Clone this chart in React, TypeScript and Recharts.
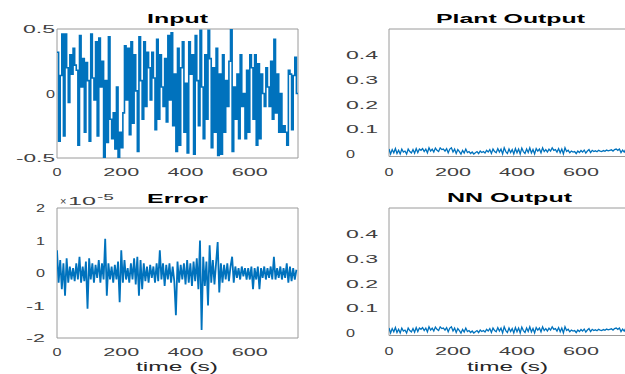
import React from 'react';
import { LineChart, Line, XAxis, YAxis, ReferenceArea } from 'recharts';

// sample period of every trace, seconds
const TIME_STEP = 5;
const timeTicks = [0, 200, 400, 600];

// Input: random step signal, one value per 5 s (last one repeated to close at 750 s)
const input = [
  0.32, -0.37, 0.14, 0.46, -0.33, 0.46, 0.2, -0.07, 0.3, 0.15,
  0.35, 0.22, 0.18, -0.4, 0.45, 0.05, 0.27, -0.3, 0.24, 0.1,
  -0.37, 0.46, 0.12, -0.05, 0.4, -0.33, 0.43, 0.05, 0.25, -0.5,
  0.1, -0.38, 0.44, -0.2, -0.35, -0.15, -0.43, 0.05, -0.5, -0.3,
  -0.42, -0.15, 0.37, -0.05, 0.35, -0.32, 0.4, -0.23, 0.3, 0.02,
  -0.45, 0.44, 0.1, -0.2, 0.4, -0.1, 0.32, 0.2, -0.05, 0.32,
  0.12, -0.28, 0.42, -0.2, 0.3, 0.05, -0.1, 0.27, -0.22, 0.45,
  -0.05, 0.47, -0.25, 0.15, -0.45, 0.35, -0.4, 0.2, 0.4, -0.3,
  0.08, -0.46, 0.4, 0.15, 0.3, -0.47, 0.45, 0.1, -0.25, 0.49,
  0.05, -0.35, 0.3, -0.2, 0.49, 0.27, -0.42, 0.2, -0.3, 0.35,
  -0.48, 0.15, -0.47, 0.3, -0.3, 0.1, -0.1, 0.25, 0.5, -0.45,
  0.05, -0.2, 0.15, -0.35, 0.3, -0.1, 0.0, -0.35, 0.18, -0.3,
  0.3, 0.2, -0.2, 0.3, -0.4, 0.23, -0.35, 0.15, 0.0, -0.1,
  0.2, 0.05, -0.1, 0.25, -0.2, 0.42, -0.15, 0.15, -0.3, 0.0,
  -0.3, -0.25, -0.3, -0.4, 0.18, 0.15, -0.28, 0.14, 0.28, 0.0,
  0.0,
];

// Plant output (the NN output is the same trace to within 1e-5)
const plantOutput = [
  0.02, 0.0, 0.018, 0.005, 0.022, 0.002, 0.015, 0.0, 0.02, 0.008,
  0.012, 0.0, 0.02, 0.01, 0.004, 0.018, 0.003, 0.022, 0.006, 0.02,
  0.015, 0.022, 0.01, 0.02, 0.005, 0.025, 0.012, 0.02, 0.008, 0.024,
  0.015, 0.01, 0.025, 0.018, 0.02, 0.012, 0.022, 0.005, 0.02, 0.025,
  0.008, 0.02, 0.002, 0.018, 0.01, 0.0, 0.015, 0.004, 0.02, 0.006,
  0.01, 0.002, 0.008, 0.0, 0.005, 0.01, 0.002, 0.012, 0.006, 0.01,
  0.004, 0.015, 0.008, 0.018, 0.002, 0.02, 0.01, 0.005, 0.022, 0.008,
  0.02, 0.0, 0.025, 0.01, 0.002, 0.02, 0.006, 0.018, 0.0, 0.022,
  0.005, 0.02, 0.0, 0.024, 0.01, 0.002, 0.02, 0.006, 0.025, 0.004,
  0.018, 0.0, 0.022, 0.012, 0.02, 0.005, 0.025, 0.01, 0.018, 0.008,
  0.02, 0.012, 0.025, 0.015, 0.018, 0.008, 0.022, 0.005, 0.02, 0.0,
  0.025, 0.01, 0.015, 0.005, 0.012, 0.008, 0.01, 0.002, 0.012, 0.006,
  0.014, 0.008, 0.016, 0.004, 0.012, 0.018, 0.006, 0.015, 0.01, 0.013,
  0.009, 0.015, 0.012, 0.01, 0.014, 0.011, 0.016, 0.013, 0.015, 0.017,
  0.012, 0.018, 0.02, 0.015, 0.02, 0.006, 0.016, 0.008, 0.02, 0.01,
];
const nnOutput = plantOutput;

// Error, in units of 1e-5
const errorTrace = [
  0.7, -0.3, 0.4, -0.5, 0.3, -0.7, 0.45, -0.3, 0.2, -0.2,
  0.15, -0.25, 0.3, -0.2, 0.5, -0.3, 0.2, -0.25, 0.35, -1.1,
  0.45, -0.2, 0.3, -0.3, 0.25, -0.15, 0.4, -0.3, 0.3, -0.2,
  1.05, -0.7, 0.3, -0.2, 0.2, -0.3, 0.25, -0.2, 0.35, -0.9,
  0.7, -0.3, 0.4, -0.2, 0.15, -0.3, 0.3, -0.2, 0.45, -0.35,
  0.5, -0.7, 0.4, -0.5, 0.3, -0.25, 0.2, -0.3, 0.25, -0.15,
  0.2, -0.3, 0.3, -0.25, 0.7, -0.2, 0.3, -0.4, 0.25, -0.2,
  0.3, -0.3, 0.2, -0.25, -1.3, 0.35, -0.3, 0.25, -0.2, 0.3,
  -0.35, 0.4, -0.3, 0.3, -0.4, 0.35, -0.25, 0.45, -0.5, 1.0,
  -1.75, 0.5, -0.4, 0.35, -1.0, 0.85, -0.3, 0.4, -0.35, 0.3,
  0.95, -0.6, 0.3, -0.3, 0.25, -0.2, 0.3, -0.25, 0.2, 0.5,
  -0.3, 0.2, -0.15, 0.15, -0.2, 0.2, -0.1, 0.15, -0.2, 0.15,
  -0.2, 0.2, -0.5, 0.15, -0.2, 0.2, -0.5, 0.15, -0.15, 0.2,
  -0.2, 0.15, -0.15, 0.2, -0.2, 0.5, -0.2, 0.15, -0.15, 0.2,
  -0.2, 0.15, -0.15, 0.3, -0.3, 0.2, -0.25, 0.15, -0.2, 0.1,
];

const inputTicks = [-0.5, 0, 0.5];
const outputTicks = [0, 0.1, 0.2, 0.3, 0.4];
const errorTicks = [-2, -1, 0, 1, 2];

const FONT = '"Liberation Sans", Arial, sans-serif';
const BLUE = '#0072BD';
const BOX = '#9a9a9a';

const toRows = (values: number[]) => values.map((v, i) => ({ t: i * TIME_STEP, v }));

// the reference text is stretched wide, so force the width of each label
const labelWidth = (s: string) => {
  if (s.length === 1) return 9;
  let w = 0;
  for (const c of s) w += c === '.' ? 8 : c === '-' ? 7 : 12;
  return w;
};

const fmt = (v: number) => String(v);

const makeYTick = (labelX: number, anchor: 'start' | 'end') => (props: any) => {
  const s = fmt(props.payload.value);
  return (
    <text x={labelX} y={props.y} dy={4} textAnchor={anchor} textLength={labelWidth(s)}
      lengthAdjust="spacingAndGlyphs" fontSize={11} fill="#404040" fontFamily={FONT}>
      {s}
    </text>
  );
};

const makeXTick = (labelY: number) => (props: any) => {
  const s = fmt(props.payload.value);
  return (
    <text x={props.x} y={labelY} textAnchor="middle" textLength={labelWidth(s)}
      lengthAdjust="spacingAndGlyphs" fontSize={11} fill="#404040" fontFamily={FONT}>
      {s}
    </text>
  );
};

interface PanelProps {
  left: number;
  top: number;
  width: number;
  height: number;
  margin: { top: number; right: number; bottom: number; left: number };
  yWidth: number;
  data: number[];
  yDomain: [number, number];
  yTicks: number[];
  yTick: (p: any) => React.ReactElement;
  xTick: (p: any) => React.ReactElement;
  lineWidth: number;
  step?: boolean;
}

const Panel: React.FC<PanelProps> = ({ left, top, width, height, margin, yWidth, data, yDomain, yTicks, yTick, xTick, lineWidth, step }) => (
  <div style={{ position: 'absolute', left, top }}>
    <LineChart width={width} height={height} data={toRows(data)} margin={margin}>
      <XAxis dataKey="t" type="number" domain={[0, 750]} ticks={timeTicks} allowDataOverflow
        axisLine={false} tickLine={false} height={20} tick={xTick} interval={0} />
      <YAxis type="number" domain={yDomain} ticks={yTicks} allowDataOverflow
        axisLine={false} tickLine={false} width={yWidth} tick={yTick} interval={0} />
      <ReferenceArea x1={0} x2={750} y1={yDomain[0]} y2={yDomain[1]} fill="none" fillOpacity={0}
        stroke={BOX} strokeWidth={1} ifOverflow="visible" />
      <Line dataKey="v" type={step ? 'stepAfter' : 'linear'} stroke={BLUE} strokeWidth={lineWidth}
        dot={false} isAnimationActive={false} />
    </LineChart>
  </div>
);

const outDomain: [number, number] = [-0.01, 0.505];

export default function App() {
  return (
    <div style={{ position: 'relative', width: 625, height: 374, overflow: 'hidden', background: '#fff' }}>
      <style>{'body{margin:0}'}</style>
      <Panel left={0} top={0} width={310} height={185}
        margin={{ top: 29, right: 12, bottom: 7, left: 0 }} yWidth={57}
        data={input} yDomain={[-0.5, 0.5]} yTicks={inputTicks}
        yTick={makeYTick(55, 'end')} xTick={makeXTick(176)} lineWidth={1.6} step />
      <Panel left={310} top={0} width={319} height={185}
        margin={{ top: 29, right: 0, bottom: 8.5, left: 0 }} yWidth={79}
        data={plantOutput} yDomain={outDomain} yTicks={outputTicks}
        yTick={makeYTick(36, 'start')} xTick={makeXTick(176)} lineWidth={1.3} />
      <Panel left={0} top={185} width={310} height={189}
        margin={{ top: 23, right: 12, bottom: 16, left: 0 }} yWidth={57}
        data={errorTrace} yDomain={[-2, 2]} yTicks={errorTicks}
        yTick={makeYTick(45, 'end')} xTick={makeXTick(171)} lineWidth={1.8} />
      <Panel left={310} top={185} width={319} height={189}
        margin={{ top: 23, right: 0, bottom: 18.5, left: 0 }} yWidth={79}
        data={nnOutput} yDomain={outDomain} yTicks={outputTicks}
        yTick={makeYTick(36, 'start')} xTick={makeXTick(170)} lineWidth={1.3} />

      {/* titles, axis labels and the exponent note */}
      <svg width={625} height={374} style={{ position: 'absolute', left: 0, top: 0, pointerEvents: 'none' }}
        fontFamily={FONT}>
        <text x={147} y={23} fontSize={13} fontWeight="bold" fill="#000" textLength={61} lengthAdjust="spacingAndGlyphs">Input</text>
        <text x={436} y={23} fontSize={13} fontWeight="bold" fill="#000" textLength={149} lengthAdjust="spacingAndGlyphs">Plant Output</text>
        <text x={147} y={203} fontSize={13} fontWeight="bold" fill="#000" textLength={61} lengthAdjust="spacingAndGlyphs">Error</text>
        <text x={447} y={202} fontSize={13} fontWeight="bold" fill="#000" textLength={125} lengthAdjust="spacingAndGlyphs">NN Output</text>
        <text x={136} y={371} fontSize={12} fill="#262626" textLength={82} lengthAdjust="spacingAndGlyphs">time (s)</text>
        <text x={467} y={371} fontSize={12} fill="#262626" textLength={81} lengthAdjust="spacingAndGlyphs">time (s)</text>
        <text x={60} y={205} fontSize={11} fill="#404040">
          <tspan>×</tspan>
          <tspan x={68} textLength={28} lengthAdjust="spacingAndGlyphs">10</tspan>
          <tspan x={97} y={200} fontSize={9} textLength={17} lengthAdjust="spacingAndGlyphs">-5</tspan>
        </text>
      </svg>
    </div>
  );
}
